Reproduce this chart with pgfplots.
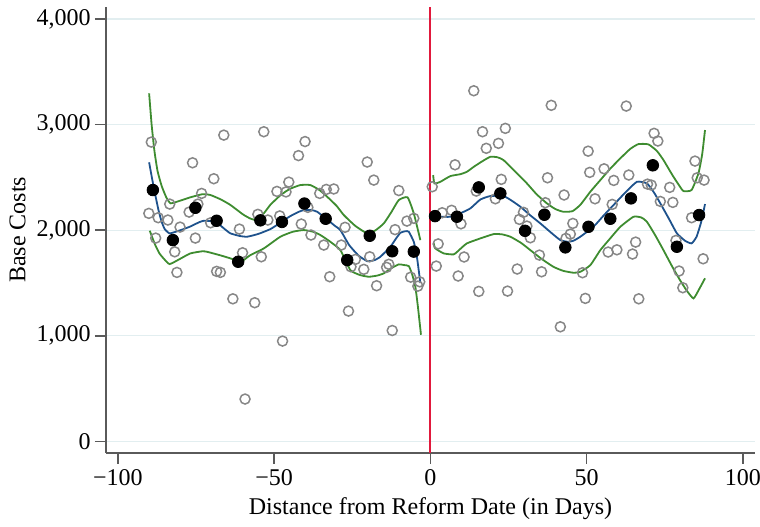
\documentclass[border=0pt]{standalone}
\usepackage{fontspec}
\setmainfont{Liberation Serif}
\usepackage{pgfplots}
\pgfplotsset{compat=1.18}
\definecolor{gridc}{RGB}{226,238,240}
\definecolor{axc}{RGB}{90,90,90}
\definecolor{fitblue}{RGB}{30,82,140}
\definecolor{fitgreen}{RGB}{62,140,48}
\definecolor{refred}{RGB}{225,25,60}
\definecolor{circc}{RGB}{135,135,135}
\begin{document}
\begin{tikzpicture}
\useasboundingbox (-53pt,-36.65pt) rectangle (327pt,226.4pt);
\begin{axis}[
  scale only axis, width=324.5pt, height=222.9pt,
  at={(0,0)}, anchor=south west,
  xmin=-103.8, xmax=103.9, ymin=-108, ymax=4113,
  axis x line*=bottom, axis y line*=left,
  axis line style={axc, line width=0.8pt, -},
  tick align=outside, major tick length=5.5pt,
  tick style={axc, line width=0.8pt},
  xtick={-100,-50,0,50,100},
  xticklabels={−100,−50,0,50,100},
  ytick={0,1000,2000,3000,4000},
  yticklabels={0,{1,000},{2,000},{3,000},{4,000}},
  yticklabel style={inner sep=2pt},
  xticklabel style={inner sep=2.5pt},
  ymajorgrids, grid style={gridc, line width=0.6pt},
  tick label style={font=\fontsize{12}{14}\selectfont, black},
  label style={font=\fontsize{12}{14}\selectfont, black},
  xlabel={Distance from Reform Date (in Days)},
  ylabel={Base Costs},
  clip=false,
]
% raw observations
\addplot[only marks, mark=o, mark size=2.5pt, mark options={circc, line width=0.75pt}] coordinates {
(-89.3,2834) (-66.1,2900) (-53.3,2932) (-76.1,2638) (-69.3,2487) (-73.2,2348)
(-83.4,2247) (-74.4,2247) (-77.2,2171) (-90.1,2159) (-87.1,2118) (-84.0,2096)
(-80.1,2029) (-70.3,2070) (-61.1,2010) (-55.2,2150) (-52.0,2096) (-87.9,1925)
(-75.2,1925) (-81.8,1795) (-60.1,1786) (-54.1,1748) (-81.1,1600) (-68.4,1610)
(-67.2,1600) (-63.2,1350) (-56.2,1313) (-59.3,401) (-47.3,950) (-40.1,2839)
(-42.2,2706) (-20.2,2645) (-18.1,2474) (-45.3,2455) (-49.1,2367) (-46.2,2362)
(-35.4,2348) (-33.3,2386) (-30.9,2390) (-10.1,2375) (-48.2,2135) (-39.2,2216)
(-41.3,2058) (-38.2,1954) (-34.1,1859) (-27.3,2027) (-28.5,1859) (-32.2,1559)
(-24.0,1723) (-25.4,1653) (-21.3,1629) (-19.4,1748) (-17.2,1474) (-14.0,1648)
(-13.3,1677) (-11.3,2005) (-7.5,2086) (-5.3,2112) (-6.3,1555) (-4.0,1470)
(-3.4,1511) (-26.2,1234) (-12.2,1050)
(0.6,2411) (2.5,1870) (1.9,1660) (13.9,3320) (38.7,3182) (16.7,2932)
(24.0,2964) (17.9,2775) (21.8,2822) (50.5,2748) (7.9,2619) (37.5,2496)
(22.7,2481) (14.7,2370) (20.8,2297) (42.8,2333) (36.8,2260) (29.8,2169)
(28.5,2102) (3.8,2165) (6.8,2188) (9.8,2060) (30.9,2039) (32.0,1928)
(45.6,2064) (44.8,1963) (43.4,1922) (51.0,2547) (10.8,1746) (8.9,1566)
(34.9,1764) (27.8,1632) (35.6,1606) (48.7,1597) (15.5,1420) (24.7,1423)
(49.6,1354) (41.6,1085) (62.7,3175) (71.6,2917) (72.8,2844) (84.7,2654)
(55.6,2581) (58.7,2471) (63.5,2522) (69.5,2436) (70.7,2427) (76.6,2405)
(85.4,2496) (87.6,2474) (52.7,2297) (58.2,2244) (73.6,2272) (77.6,2263)
(83.6,2118) (78.6,1903) (65.7,1887) (56.9,1793) (59.7,1814) (64.7,1774)
(87.3,1729) (79.6,1613) (80.8,1455) (66.7,1350)
};
% upper CI left
\addplot[fitgreen, line width=0.9pt, smooth, tension=0.3] coordinates {
(-90,3295) (-89.2,3000) (-88.3,2750) (-87.3,2560) (-86,2420) (-84.5,2310) (-83.1,2254)
(-80,2280) (-76.8,2311) (-73,2340) (-70.4,2333) (-67,2290) (-64,2239) (-60,2150)
(-57.6,2110) (-55.4,2096) (-53,2170) (-51.2,2240) (-48,2330) (-45,2390) (-41.6,2427)
(-38.4,2427) (-35.5,2380) (-33,2316) (-30,2230) (-27.7,2143) (-24,2040) (-20.2,1970)
(-17.5,2000) (-14.9,2064) (-12.5,2170) (-10.1,2285) (-7.3,2311) (-5.3,2159) (-3.2,1906)
};
% lower CI left
\addplot[fitgreen, line width=0.9pt, smooth, tension=0.3] coordinates {
(-89.8,1995) (-88.2,1870) (-86.7,1780) (-85,1720) (-83.4,1679) (-80,1730) (-76.8,1780)
(-73,1800) (-71.4,1795) (-67,1760) (-64,1733) (-60.8,1701) (-59.7,1717) (-57.6,1764)
(-53.3,1827) (-48,1938) (-44,1985) (-40.5,2001) (-37.5,1985) (-35.2,1954) (-32,1890)
(-28.8,1811) (-25.6,1622) (-22.5,1575) (-19.7,1559) (-17,1570) (-14.9,1591) (-12.5,1640)
(-10.1,1676) (-8.5,1670) (-6.9,1660) (-5.8,1580) (-4.8,1464) (-4,1280) (-3,1010)
};
% fit left
\addplot[fitblue, line width=0.9pt, smooth, tension=0.3] coordinates {
(-90,2642) (-89,2480) (-88,2330) (-87,2190) (-86,2080) (-85,2010) (-83.5,1970) (-81.5,1985)
(-79,2010) (-76.8,2035) (-74,2075) (-72.5,2089) (-70,2085) (-68,2064) (-66,2015) (-64,1970)
(-61,1945) (-58.6,1938) (-55,1965) (-51.2,2010) (-48,2070) (-45,2130) (-42,2175) (-40.5,2190)
(-38,2190) (-36.2,2174) (-33,2100) (-30.5,2040) (-28.8,2001) (-26,1860) (-23,1760) (-20.2,1707)
(-18,1715) (-16,1748) (-12.8,1843) (-11,1920) (-9.6,1975) (-8,1990) (-6.9,1985) (-5.3,1890)
(-4.3,1748) (-3.2,1500)
};
% upper CI right
\addplot[fitgreen, line width=0.9pt, smooth, tension=0.3] coordinates {
(0.9,2522) (1.3,2443) (3.2,2458) (6.4,2512) (9.6,2530) (11.7,2553) (13.9,2600) (16.5,2650)
(19.2,2695) (21.5,2690) (23.4,2664) (27,2560) (30.9,2443) (34,2340) (37.3,2254) (40,2200)
(42.6,2174) (45.5,2180) (48,2240) (51.2,2364) (54.4,2474) (57.5,2580) (60.8,2680) (64,2770)
(66.6,2815) (69.8,2812) (72.5,2750) (74.6,2664) (77.5,2520) (79.9,2411) (81,2370) (83.6,2380)
(85.8,2538) (87,2720) (87.9,2948)
};
% lower CI right
\addplot[fitgreen, line width=0.9pt, smooth, tension=0.3] coordinates {
(1.1,1875) (1.6,1827) (4.3,1780) (7.5,1771) (9.5,1820) (11.7,1875) (16,1922) (20.3,1963)
(23,1960) (25.6,1938) (29,1880) (32,1811) (35.5,1730) (39.4,1653) (42.5,1615) (45.8,1597)
(48,1606) (51.2,1669) (54.4,1811) (57.5,1920) (60.8,2032) (65,2127) (67.5,2120) (69.3,2080)
(72,1950) (74.6,1811) (77.5,1650) (79.9,1527) (82,1430) (84.2,1354) (86,1440) (87.9,1544)
};
% fit right
\addplot[fitblue, line width=0.9pt, smooth, tension=0.3] coordinates {
(0.5,2133) (3,2128) (6.4,2127) (9.6,2160) (12.8,2206) (16,2290) (19.2,2323) (23.4,2323)
(26,2280) (28.8,2222) (32,2140) (35.2,2064) (38.5,1980) (41.6,1906) (44,1890) (45.8,1900)
(48,1938) (52.2,2032) (55.5,2140) (58.6,2237) (62.5,2360) (66.1,2458) (69.3,2443) (71.5,2360)
(73.6,2254) (76.5,2100) (78.9,1970) (81.5,1900) (83.6,1875) (85.2,1938) (86.7,2080) (87.9,2247)
};
% bin means
\addplot[only marks, mark=*, mark size=2.9pt, mark options={black}] coordinates {
(-88.8,2380) (-82.4,1906) (-75.2,2212) (-68.4,2089) (-61.5,1701) (-54.4,2093) (-47.5,2078)
(-40.3,2252) (-33.5,2108) (-26.6,1717) (-19.4,1947) (-12.2,1800) (-5.3,1797)
(1.5,2133) (8.5,2127) (15.5,2405) (22.4,2348) (30.3,1994) (36.5,2146) (43.2,1837)
(50.6,2032) (57.6,2108) (64.2,2301) (71.2,2614) (78.9,1843) (86.0,2143)
};
% reform date
\addplot[refred, line width=1pt] coordinates {(0,-108) (0,4113)};
\end{axis}
\end{tikzpicture}
\end{document}
